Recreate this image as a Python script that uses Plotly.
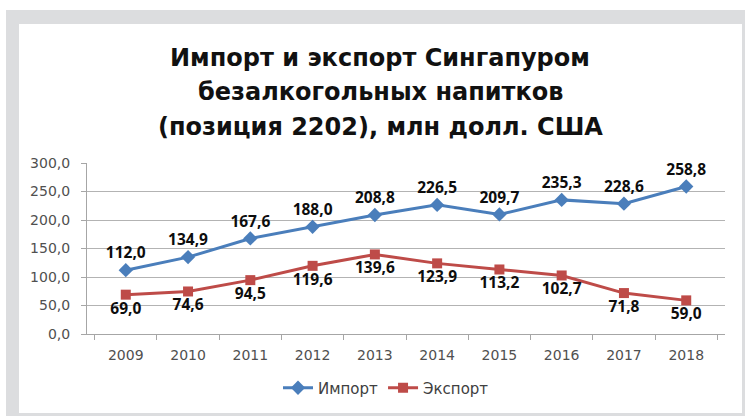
import plotly.graph_objects as go

years = ["2009", "2010", "2011", "2012", "2013", "2014", "2015", "2016", "2017", "2018"]
imports = [112.0, 134.9, 167.6, 188.0, 208.8, 226.5, 209.7, 235.3, 228.6, 258.8]
exports = [69.0, 74.6, 94.5, 119.6, 139.6, 123.9, 113.2, 102.7, 71.8, 59.0]
title_lines = ["Импорт и экспорт Сингапуром", "безалкогольных напитков", "(позиция 2202), млн долл. США"]

W, H = 745, 416
L, R, T, B = 87, 20, 163, 82
pw, ph = W - L - R, H - T - B

def px(x):
    return (x - L) / pw

def py(y):
    return (H - B - y) / ph

fig = go.Figure()
fig.add_trace(go.Scatter(
    x=years, y=imports, name="Импорт", mode="lines+markers+text",
    line=dict(color="#4a7ebb", width=3),
    marker=dict(symbol="diamond", size=11, color="#4a7ebb"),
    texttemplate="%{y:.1f}", textposition="top center",
    textfont=dict(family="Open Sans", size=15.5, color="#0d0d0d", weight="bold"),
    cliponaxis=False,
))
fig.add_trace(go.Scatter(
    x=years, y=exports, name="Экспорт", mode="lines+markers+text",
    line=dict(color="#be4b48", width=3),
    marker=dict(symbol="square", size=10, color="#be4b48"),
    texttemplate="%{y:.1f}", textposition="bottom center",
    textfont=dict(family="Open Sans", size=15.5, color="#0d0d0d", weight="bold"),
    cliponaxis=False,
))

fig.add_shape(type="rect", xref="paper", yref="paper", layer="below",
              x0=px(6), x1=px(745), y0=py(416), y1=py(10),
              fillcolor="#dcdddf", line=dict(width=0))
fig.add_shape(type="rect", xref="paper", yref="paper", layer="below",
              x0=px(19), x1=px(742), y0=py(413), y1=py(24),
              fillcolor="white", line=dict(width=0))

for line, yc in zip(title_lines, [58, 92, 127]):
    fig.add_annotation(text=line, xref="paper", yref="paper",
                       x=px(380), y=py(yc), xanchor="center", yanchor="middle",
                       showarrow=False, align="center",
                       font=dict(family="DejaVu Sans", size=24, color="#111111", weight="bold"))

fig.update_layout(
    width=W, height=H, margin=dict(l=L, r=R, t=T, b=B, autoexpand=False),
    paper_bgcolor="white", plot_bgcolor="rgba(0,0,0,0)",
    separators=", ",
    showlegend=True,
    legend=dict(orientation="h", x=px(386), y=py(388), xanchor="center", yanchor="middle",
                font=dict(family="DejaVu Sans", size=15, color="#404040"),
                bgcolor="rgba(0,0,0,0)", itemwidth=30),
    font=dict(family="DejaVu Sans", color="#404040"),
)
fig.update_xaxes(type="category", showgrid=False, showline=True, linecolor="#a6a6a6", linewidth=1,
                 ticks="outside", tickson="boundaries", ticklen=5, tickcolor="#a6a6a6",
                 ticklabelstandoff=8,
                 tickfont=dict(family="DejaVu Sans", size=14, color="#505050"), fixedrange=True, automargin=False)
fig.update_yaxes(range=[0, 300], dtick=50, tickformat=".1f", showgrid=True, gridcolor="#b3b3b3",
                 showline=True, linecolor="#a6a6a6", linewidth=1, zeroline=False,
                 ticks="outside", ticklen=5, tickcolor="#a6a6a6",
                 ticklabelstandoff=8,
                 tickfont=dict(family="DejaVu Sans", size=14, color="#505050"), fixedrange=True, automargin=False)

fig.write_html("out.html", config={"displayModeBar": False},
               post_script="document.body.style.margin='0';document.body.style.overflow='hidden';")
